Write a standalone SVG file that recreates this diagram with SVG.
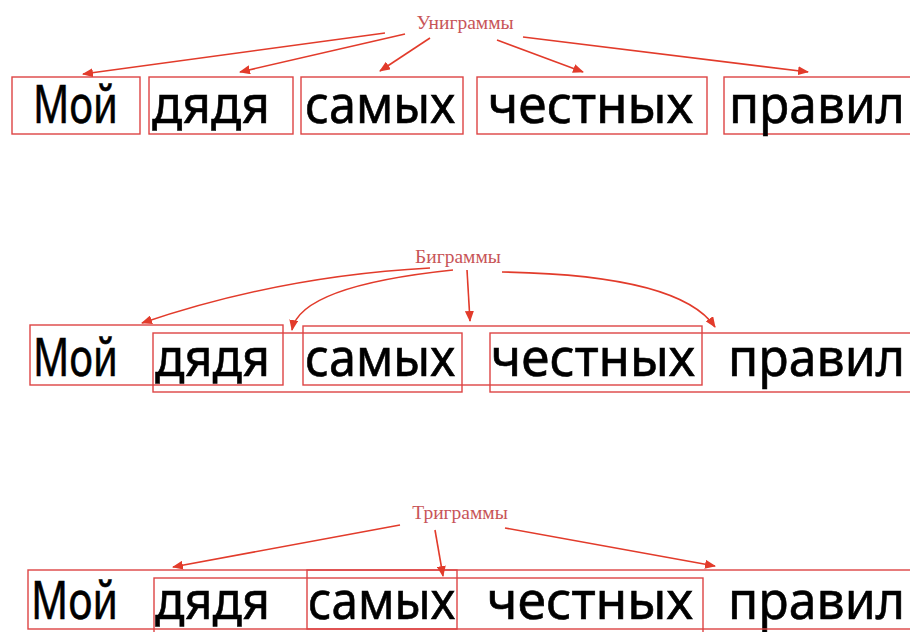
<svg xmlns="http://www.w3.org/2000/svg" width="910" height="632" viewBox="0 0 910 632">
  <style>
    .word { font-family: "Noto Sans", "DejaVu Sans", sans-serif; font-size: 52px; fill: #000; stroke: #000; stroke-width: 0.6; }
    .label { font-family: "Liberation Serif", serif; font-size: 19.5px; fill: #c85558; text-anchor: middle; }
    .box { fill: none; stroke: #dd4444; stroke-width: 1.4; }
    .arrow { fill: none; stroke: #e23b2b; stroke-width: 1.6; marker-end: url(#head); }
  </style>
  <defs>
    <marker id="head" markerUnits="userSpaceOnUse" markerWidth="11" markerHeight="9" refX="10" refY="4.5" orient="auto">
      <path d="M0,0 L11,4.5 L0,9 Z" fill="#e23b2b"/>
    </marker>
  </defs>
  <rect width="910" height="632" fill="#fff"/>

  <!-- Unigrams -->
  <g id="unigrams">
    <text class="label" x="465" y="29">Униграммы</text>
    <g id="uni-1"><rect class="box" x="12" y="77" width="128" height="57"/><text class="word" x="33" y="123" textLength="85" lengthAdjust="spacingAndGlyphs">Мой</text></g>
    <g id="uni-2"><rect class="box" x="149" y="77" width="144" height="57"/><text class="word" x="152" y="123" textLength="118" lengthAdjust="spacingAndGlyphs">дядя</text></g>
    <g id="uni-3"><rect class="box" x="301" y="77" width="162" height="57"/><text class="word" x="305" y="123" textLength="150" lengthAdjust="spacingAndGlyphs">самых</text></g>
    <g id="uni-4"><rect class="box" x="477" y="77" width="230" height="57"/><text class="word" x="488" y="123" textLength="205" lengthAdjust="spacingAndGlyphs">честных</text></g>
    <g id="uni-5"><rect class="box" x="724" y="77" width="200" height="57"/><text class="word" x="729" y="123" textLength="176" lengthAdjust="spacingAndGlyphs">правил</text></g>
  </g>

  <!-- Bigrams -->
  <g id="bigrams">
    <text class="label" x="458" y="263">Биграммы</text>
    <g id="bi-words">
      <text class="word" x="33" y="376" textLength="85" lengthAdjust="spacingAndGlyphs">Мой</text>
      <text class="word" x="155" y="376" textLength="115" lengthAdjust="spacingAndGlyphs">дядя</text>
      <text class="word" x="305" y="376" textLength="150" lengthAdjust="spacingAndGlyphs">самых</text>
      <text class="word" x="491" y="376" textLength="204" lengthAdjust="spacingAndGlyphs">честных</text>
      <text class="word" x="728" y="376" textLength="177" lengthAdjust="spacingAndGlyphs">правил</text>
    </g>
    <g id="bi-1"><rect class="box" x="30" y="325" width="253" height="60"/></g>
    <g id="bi-2"><rect class="box" x="153" y="333" width="309" height="59"/></g>
    <g id="bi-3"><rect class="box" x="303" y="326" width="399" height="59"/></g>
    <g id="bi-4"><rect class="box" x="490" y="333" width="430" height="59"/></g>
  </g>

  <!-- Trigrams -->
  <g id="trigrams">
    <text class="label" x="460" y="519">Триграммы</text>
    <g id="tri-words">
      <text class="word" x="31" y="619" textLength="87" lengthAdjust="spacingAndGlyphs">Мой</text>
      <text class="word" x="155" y="619" textLength="115" lengthAdjust="spacingAndGlyphs">дядя</text>
      <text class="word" x="308" y="619" textLength="147" lengthAdjust="spacingAndGlyphs">самых</text>
      <text class="word" x="487" y="619" textLength="206" lengthAdjust="spacingAndGlyphs">честных</text>
      <text class="word" x="728" y="619" textLength="177" lengthAdjust="spacingAndGlyphs">правил</text>
    </g>
    <g id="tri-1"><rect class="box" x="28" y="570" width="429" height="59"/></g>
    <g id="tri-2"><rect class="box" x="154" y="578" width="549" height="70"/></g>
    <g id="tri-3"><rect class="box" x="307" y="570" width="613" height="59"/></g>
  </g>

  <!-- Connectors -->
  <g id="connectors">
    <path class="arrow" d="M385,33 L83,74"/>
    <path class="arrow" d="M405,34 L240,72"/>
    <path class="arrow" d="M430,38 L380,71"/>
    <path class="arrow" d="M497,40 L583,72"/>
    <path class="arrow" d="M523,37 L808,72"/>

    <path class="arrow" d="M430,268 Q280,276 142,323"/>
    <path class="arrow" d="M453,270 Q300,286 292,330"/>
    <path class="arrow" d="M467,270 L470,321"/>
    <path class="arrow" d="M502,272 Q680,275 715,327"/>

    <path class="arrow" d="M400,525 L173,567"/>
    <path class="arrow" d="M435,530 L443,576"/>
    <path class="arrow" d="M505,528 L715,566"/>
  </g>
</svg>
